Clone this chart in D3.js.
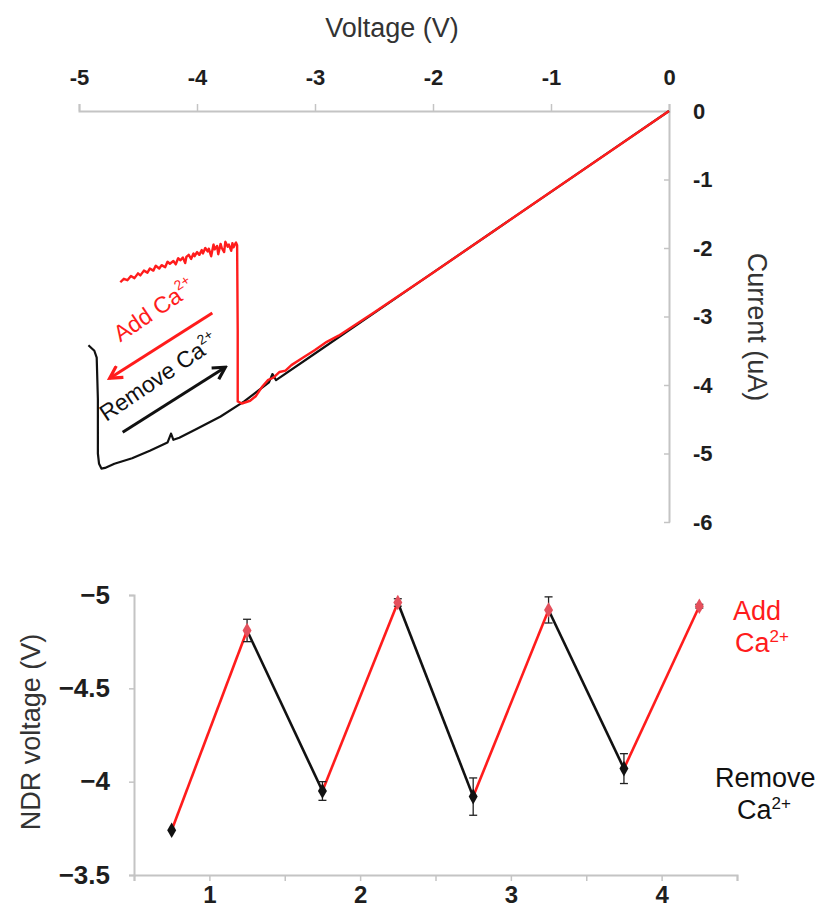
<!DOCTYPE html>
<html>
<head>
<meta charset="utf-8">
<script src="https://cdn.jsdelivr.net/npm/d3@7"></script>
<style>
  body { margin: 0; background: #fff; }
  svg { display: block; font-family: "Liberation Sans", Arial, sans-serif; }
</style>
</head>
<body>
<svg width="828" height="907"></svg>
<script>
// ---- top panel: I-V sweeps ----
var voltTicks = [-5, -4, -3, -2, -1, 0];
var currTicks = [0, -1, -2, -3, -4, -5, -6];

// remove Ca2+ sweep (black) [V, uA]
var removeCurve = [
  [0, 0], [-0.5, -0.59], [-1, -1.18], [-1.5, -1.77], [-2, -2.36], [-2.5, -2.95],
  [-3, -3.54], [-3.33, -3.93], [-3.36, -3.84], [-3.39, -3.96], [-3.6, -4.24],
  [-3.8, -4.46], [-4.0, -4.64], [-4.15, -4.77], [-4.2, -4.8], [-4.22, -4.71],
  [-4.25, -4.84], [-4.4, -4.96], [-4.55, -5.07], [-4.7, -5.15], [-4.78, -5.21],
  [-4.81, -5.22], [-4.83, -5.15], [-4.84, -5.0], [-4.84, -4.2], [-4.85, -3.6],
  [-4.87, -3.5], [-4.92, -3.42]
];

// add Ca2+ sweep (red) [V, uA]
var addCurve = [
  [0, 0], [-0.5, -0.59], [-1, -1.18], [-1.5, -1.77], [-2, -2.36], [-2.5, -2.94],
  [-2.8, -3.28], [-2.9, -3.37], [-3.0, -3.49], [-3.1, -3.6], [-3.2, -3.71],
  [-3.25, -3.79], [-3.3, -3.81], [-3.35, -3.89], [-3.4, -3.93], [-3.45, -4.03],
  [-3.5, -4.16], [-3.55, -4.23], [-3.62, -4.27], [-3.655, -4.24], [-3.655, -3.2],
  [-3.66, -1.96], [-3.67, -1.92], [-3.69, -1.99], [-3.7, -1.93], [-3.71, -2.04],
  [-3.73, -1.95], [-3.74, -1.98], [-3.76, -1.91], [-3.77, -2.06], [-3.79, -2.0],
  [-3.8, -1.94], [-3.82, -2.09], [-3.83, -1.97], [-3.85, -2.02], [-3.86, -1.95],
  [-3.88, -2.12], [-3.9, -2.01], [-3.91, -2.05], [-3.93, -2.0], [-3.95, -2.08],
  [-3.96, -2.03], [-3.98, -2.1], [-4.0, -2.06], [-4.02, -2.12], [-4.03, -2.08],
  [-4.05, -2.16], [-4.07, -2.1], [-4.09, -2.13], [-4.1, -2.22], [-4.12, -2.14],
  [-4.14, -2.18], [-4.16, -2.15], [-4.18, -2.24], [-4.2, -2.19], [-4.23, -2.23],
  [-4.25, -2.2], [-4.27, -2.28], [-4.3, -2.25], [-4.32, -2.3], [-4.35, -2.26],
  [-4.37, -2.33], [-4.4, -2.3], [-4.42, -2.36], [-4.45, -2.33], [-4.48, -2.4],
  [-4.5, -2.37], [-4.53, -2.44], [-4.56, -2.41], [-4.59, -2.47], [-4.62, -2.45],
  [-4.65, -2.5]
];

// ---- bottom panel: NDR voltage per step ----
var stepX = [0.75, 1.25, 1.75, 2.25, 2.75, 3.25, 3.75, 4.25];
var ndrVolt = [-3.74, -4.81, -3.95, -4.96, -3.92, -4.92, -4.07, -4.94];
var ndrErr = [0, 0.06, 0.05, 0.02, 0.1, 0.07, 0.08, 0.01];
var stepTicks = [1, 2, 3, 4];
var ndrTicks = [-5, -4.5, -4, -3.5];

var RED = "#ff1c1c", PINK = "#e4505c", BLACK = "#111", AXIS = "#c4c4c4";

var svg = d3.select("svg");
svg.append("rect").attr("width", 828).attr("height", 907).attr("fill", "#fff");

var defs = svg.append("defs");
[["arRed", RED], ["arBlack", BLACK]].forEach(function(m) {
  defs.append("marker")
    .attr("id", m[0])
    .attr("viewBox", "0 0 12 12")
    .attr("refX", 10).attr("refY", 6)
    .attr("markerWidth", 16).attr("markerHeight", 16)
    .attr("markerUnits", "userSpaceOnUse")
    .attr("orient", "auto")
    .append("path")
    .attr("d", "M1,1 L10,6 L1,11")
    .attr("fill", "none")
    .attr("stroke", m[1])
    .attr("stroke-width", 2.4);
});

// top scales
var x = d3.scaleLinear().domain([-5, 0]).range([79, 669]);
var y = d3.scaleLinear().domain([0, -6]).range([111, 522]);

var xAxis = svg.append("g")
  .attr("transform", "translate(0," + y(0) + ")")
  .call(d3.axisTop(x).tickValues(voltTicks).tickSize(7).tickFormat(d3.format("d")));
xAxis.select(".domain").attr("stroke", AXIS).attr("stroke-width", 2);
xAxis.selectAll(".tick line").attr("stroke", AXIS).attr("stroke-width", 1.5);
xAxis.selectAll(".tick text")
  .attr("y", -26)
  .attr("fill", "#1e1e1e")
  .style("font-size", "22px").style("font-weight", "bold")
  .text(function(d) { return d === 0 ? "0" : "-" + Math.abs(d); });

var yAxis = svg.append("g")
  .attr("transform", "translate(" + x(0) + ",0)")
  .call(d3.axisRight(y).tickValues(currTicks).tickSize(0));
yAxis.select(".domain").attr("stroke", AXIS).attr("stroke-width", 2);
yAxis.selectAll(".tick").append("line")
  .attr("x1", -5).attr("x2", 1).attr("stroke", AXIS).attr("stroke-width", 1.5);
yAxis.selectAll(".tick text")
  .attr("x", 24)
  .attr("text-anchor", "start")
  .attr("fill", "#1e1e1e")
  .style("font-size", "22px").style("font-weight", "bold")
  .text(function(d) { return d === 0 ? "0" : "-" + Math.abs(d); });

svg.append("text")
  .attr("x", 392).attr("y", 37)
  .attr("text-anchor", "middle")
  .attr("fill", "#333")
  .style("font-size", "27px")
  .text("Voltage (V)");

svg.append("text")
  .attr("transform", "translate(748,327) rotate(90)")
  .attr("text-anchor", "middle")
  .attr("fill", "#333")
  .style("font-size", "27px")
  .text("Current (uA)");

var line = d3.line().x(function(d) { return x(d[0]); }).y(function(d) { return y(d[1]); });

svg.append("path").datum(removeCurve)
  .attr("d", line).attr("fill", "none")
  .attr("stroke", BLACK).attr("stroke-width", 2.2).attr("stroke-linejoin", "round");
svg.append("path").datum(addCurve)
  .attr("d", line).attr("fill", "none")
  .attr("stroke", RED).attr("stroke-width", 2.4).attr("stroke-linejoin", "round");

// arrows and labels (in data units)
svg.append("line")
  .attr("x1", x(-3.87)).attr("y1", y(-2.95))
  .attr("x2", x(-4.74)).attr("y2", y(-3.9))
  .attr("stroke", RED).attr("stroke-width", 3)
  .attr("marker-end", "url(#arRed)");
svg.append("line")
  .attr("x1", x(-4.63)).attr("y1", y(-4.69))
  .attr("x2", x(-3.76)).attr("y2", y(-3.74))
  .attr("stroke", BLACK).attr("stroke-width", 3)
  .attr("marker-end", "url(#arBlack)");

function caLabel(g, pre, size) {
  g.append("tspan").text(pre + "Ca");
  g.append("tspan").attr("dy", -size * 0.45).style("font-size", (size * 0.6) + "px").text("2+");
}

var addLbl = svg.append("text")
  .attr("transform", "translate(" + x(-4.65) + "," + y(-3.38) + ") rotate(-34)")
  .attr("fill", RED).style("font-size", "23px");
caLabel(addLbl, "Add ", 23);

var remLbl = svg.append("text")
  .attr("transform", "translate(" + x(-4.77) + "," + y(-4.54) + ") rotate(-34)")
  .attr("fill", BLACK).style("font-size", "23px");
caLabel(remLbl, "Remove ", 23);

// bottom scales
var x2 = d3.scaleLinear().domain([0.5, 4.5]).range([134, 737]);
var y2 = d3.scaleLinear().domain([-3.5, -5]).range([875, 595]);

var bx = svg.append("g")
  .attr("transform", "translate(0," + y2(-3.5) + ")")
  .call(d3.axisBottom(x2).tickValues([0.5, 1, 1.5, 2, 2.5, 3, 3.5, 4, 4.5]).tickSize(6)
    .tickFormat(function(d) { return stepTicks.indexOf(d) >= 0 ? d : ""; }));
bx.select(".domain").attr("stroke", AXIS).attr("stroke-width", 2);
bx.selectAll(".tick line").attr("stroke", AXIS).attr("stroke-width", 1.5);
bx.selectAll(".tick text")
  .attr("y", 11)
  .attr("fill", "#1e1e1e")
  .style("font-size", "24px").style("font-weight", "bold");

var by = svg.append("g")
  .attr("transform", "translate(" + x2(0.5) + ",0)")
  .call(d3.axisLeft(y2).tickValues(ndrTicks).tickSize(5)
    .tickFormat(function(d) { return "\u2212" + Math.abs(d); }));
by.select(".domain").attr("stroke", AXIS).attr("stroke-width", 2);
by.selectAll(".tick line").attr("stroke", AXIS).attr("stroke-width", 1.5);
by.selectAll(".tick text")
  .attr("x", -24)
  .attr("fill", "#1e1e1e")
  .style("font-size", "26px").style("font-weight", "bold");

svg.append("text")
  .attr("transform", "translate(40,732) rotate(-90)")
  .attr("text-anchor", "middle")
  .attr("fill", "#333")
  .style("font-size", "27px")
  .text("NDR voltage (V)");

// segments alternate red (add) / black (remove)
var pts = stepX.map(function(s, i) { return { s: s, v: ndrVolt[i], e: ndrErr[i], i: i }; });
svg.append("g").selectAll("line")
  .data(pts.slice(0, -1))
  .enter().append("line")
  .attr("x1", function(d) { return x2(d.s); })
  .attr("y1", function(d) { return y2(d.v); })
  .attr("x2", function(d) { return x2(pts[d.i + 1].s); })
  .attr("y2", function(d) { return y2(pts[d.i + 1].v); })
  .attr("stroke", function(d) { return d.i % 2 === 0 ? RED : BLACK; })
  .attr("stroke-width", 2.6);

// error bars
var eb = svg.append("g").selectAll("g")
  .data(pts.filter(function(d) { return d.e > 0; }))
  .enter().append("g")
  .attr("stroke", "#222").attr("stroke-width", 1.3);
eb.append("line")
  .attr("x1", function(d) { return x2(d.s); }).attr("x2", function(d) { return x2(d.s); })
  .attr("y1", function(d) { return y2(d.v - d.e); }).attr("y2", function(d) { return y2(d.v + d.e); });
eb.append("line")
  .attr("x1", function(d) { return x2(d.s) - 4; }).attr("x2", function(d) { return x2(d.s) + 4; })
  .attr("y1", function(d) { return y2(d.v - d.e); }).attr("y2", function(d) { return y2(d.v - d.e); });
eb.append("line")
  .attr("x1", function(d) { return x2(d.s) - 4; }).attr("x2", function(d) { return x2(d.s) + 4; })
  .attr("y1", function(d) { return y2(d.v + d.e); }).attr("y2", function(d) { return y2(d.v + d.e); });

svg.append("g").selectAll("path")
  .data(pts)
  .enter().append("path")
  .attr("transform", function(d) { return "translate(" + x2(d.s) + "," + y2(d.v) + ")"; })
  .attr("d", d3.symbol().type(d3.symbolDiamond).size(70))
  .attr("fill", function(d) { return d.i % 2 === 1 ? PINK : BLACK; });

// right-hand labels
var addR = svg.append("text").attr("fill", RED).style("font-size", "27px");
addR.append("tspan").attr("x", 733).attr("y", 620).text("Add");
addR.append("tspan").attr("x", 735).attr("y", 652).text("Ca");
addR.append("tspan").attr("dy", -10).style("font-size", "17px").text("2+");

var remR = svg.append("text").attr("fill", BLACK).style("font-size", "27px");
remR.append("tspan").attr("x", 715).attr("y", 787).text("Remove");
remR.append("tspan").attr("x", 737).attr("y", 819).text("Ca");
remR.append("tspan").attr("dy", -10).style("font-size", "17px").text("2+");
</script>
</body>
</html>
